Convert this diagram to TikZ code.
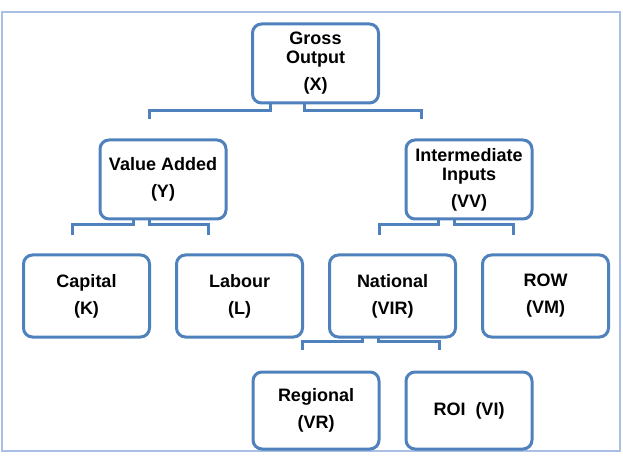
\documentclass[tikz,border=0pt]{standalone}
\usepackage{fontspec}
\setmainfont{Liberation Sans}
\usepackage{xcolor}
\usetikzlibrary{positioning}
\definecolor{boxblue}{RGB}{79,129,189}
\definecolor{frameblue}{RGB}{170,191,228}
\tikzset{
	block/.style={rectangle, rounded corners=9pt, draw=boxblue,
		line width=3pt, fill=white, minimum width=126pt,
		minimum height=79pt, align=center, inner sep=2pt, outer sep=0pt,
		font=\fontsize{18}{19}\selectfont\bfseries},
	link/.style={draw=boxblue, line width=3pt},
	outline/.style={draw=frameblue, line width=2pt}
}

\begin{document}
\begin{tikzpicture}[x=1pt, y=1pt]
	\useasboundingbox (0,0) rectangle (623,458);
	\draw[outline] (1.5,7) rectangle (619.5,446);

	\node[block] (gross) at (315.5,394.5) {Gross\\Output\\[8pt](X)};
	\node[block, below=37pt of gross, xshift=-152.5pt] (va)
	{Value Added\\[8pt](Y)};
	\node[block, below=37pt of gross, xshift=153.5pt] (ii)
	{Intermediate\\Inputs\\[8pt](VV)};

	\node[block, below=36pt of va, xshift=-76.5pt, minimum height=82pt] (cap)
	{Capital\\[8pt](K)};
	\node[block, below=36pt of va, xshift=76.5pt, minimum height=82pt] (lab)
	{Labour\\[8pt](L)};
	\node[block, below=36pt of ii, xshift=-76.5pt, minimum height=82pt] (nat)
	{National\\[8pt](VIR)};
	\node[block, below=36pt of ii, xshift=76.5pt, minimum height=82pt] (row)
	{ROW\\[8pt](VM)};

	\node[block, below=35pt of nat, xshift=-76.5pt, minimum height=77pt] (reg)
	{Regional\\[8pt](VR)};
	\node[block, below=35pt of nat, xshift=76.5pt, minimum height=77pt] (roi)
	{ROI\ \ (VI)};

	% elbow links, open at the child end
	\draw[link] ([xshift=-45.5pt]gross.south) -- ++(0,-8) -| ([xshift=-14pt, yshift=21pt]va.north);
	\draw[link] ([xshift=-11.5pt]gross.south) -- ++(0,-8) -| ([xshift=-48pt, yshift=21pt]ii.north);
	\draw[link] ([xshift=-30pt]va.south) -- ++(0,-6) -| ([xshift=-14.5pt, yshift=20pt]cap.north);
	\draw[link] ([xshift=-14pt]va.south) -- ++(0,-6) -| ([xshift=-31.5pt, yshift=20pt]lab.north);
	\draw[link] ([xshift=-31pt]ii.south) -- ++(0,-6) -| ([xshift=-13pt, yshift=20pt]nat.north);
	\draw[link] ([xshift=-15pt]ii.south) -- ++(0,-6) -| ([xshift=-32pt, yshift=20pt]row.north);
	\draw[link] ([xshift=-30pt]nat.south) -- ++(0,-4) -| ([xshift=-14pt, yshift=22pt]reg.north);
	\draw[link] ([xshift=-14pt]nat.south) -- ++(0,-4) -| ([xshift=-30pt, yshift=22pt]roi.north);
\end{tikzpicture}
\end{document}
